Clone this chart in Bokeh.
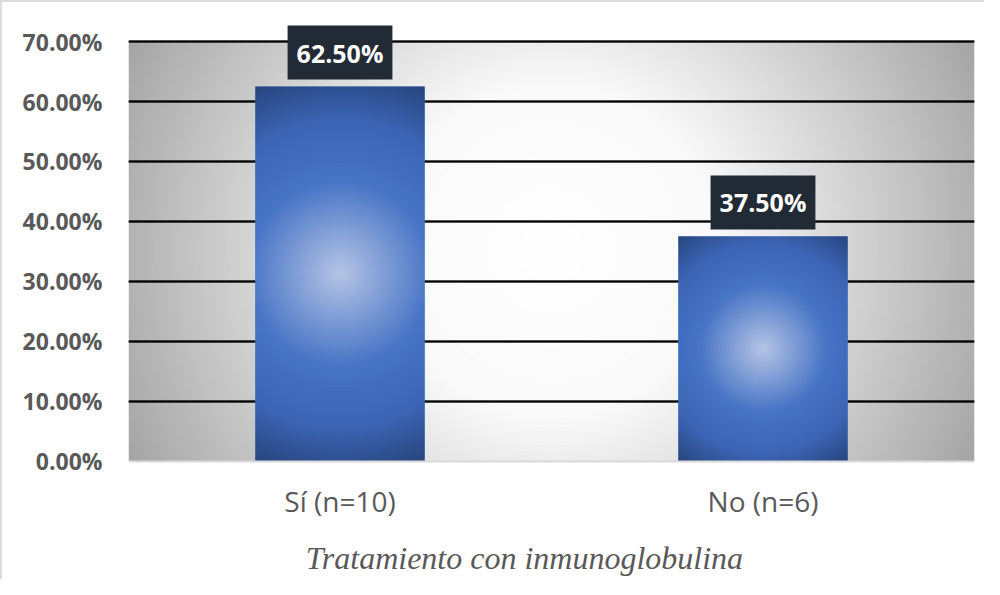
import numpy as np
from bokeh.plotting import figure
from bokeh.models import FixedTicker, NumeralTickFormatter, ColumnDataSource, Range1d, Label, Grid
from bokeh.core.properties import value
from bokeh.embed import file_html
from bokeh.resources import INLINE

# ---- data ----
categories = ["Sí (n=10)", "No (n=6)"]
percentages = [0.625, 0.375]
bar_labels = ["62.50%", "37.50%"]
y_ticks = [0.0, 0.1, 0.2, 0.3, 0.4, 0.5, 0.6, 0.7]
x_title = "Tratamiento con inmunoglobulina"

# ---- layout constants ----
W, H = 984, 579
ML, MR = 126, 12
frame_w = W - 2 - ML - MR
grad_h = 418                       # px height of the 0..70% area
top_pad, bot_pad = 39, 120         # px of frame above 70% and below 0%
y_max = 0.7
px_y = y_max / grad_h
y_end = y_max + top_pad * px_y
y_start = -bot_pad * px_y
bar_w = 0.4
centers = [i + 0.5 for i in range(len(categories))]


def radial(w, h, pos, cols):
    yy, xx = np.mgrid[0:h, 0:w]
    dx = xx + 0.5 - w / 2.0
    dy = yy + 0.5 - h / 2.0
    t = np.sqrt(dx ** 2 + dy ** 2) / np.sqrt((w / 2.0) ** 2 + (h / 2.0) ** 2)
    cols = np.array(cols, dtype=float)
    r = np.interp(t, pos, cols[:, 0])
    g = np.interp(t, pos, cols[:, 1])
    b = np.interp(t, pos, cols[:, 2])
    img = np.empty((h, w), dtype=np.uint32)
    v = img.view(dtype=np.uint8).reshape((h, w, 4))
    v[:, :, 0] = r.astype(np.uint8)
    v[:, :, 1] = g.astype(np.uint8)
    v[:, :, 2] = b.astype(np.uint8)
    v[:, :, 3] = 255
    return img


p = figure(width=W, height=H, output_backend="svg", toolbar_location=None,
           x_range=Range1d(0, len(categories)), y_range=Range1d(y_start, y_end),
           min_border_left=ML, min_border_right=MR, min_border_top=0,
           min_border_bottom=0, outline_line_color=None,
           background_fill_color="white", border_fill_color="white")
p.styles = {"border-top": "2px solid #dcdcdc", "border-left": "2px solid #dcdcdc",
            "box-sizing": "border-box"}

# background radial gradient
bg = radial(frame_w // 2, grad_h // 2, [0.0, 0.35, 1.0],
            [(255, 255, 255), (250, 250, 250), (165, 165, 165)])
bgr = p.image_rgba(image=[bg], x=0, y=0, dw=len(categories), dh=y_max)
bgr.level = "image"

# gridline shadows + grid
shadow = Grid(dimension=1, ticker=FixedTicker(ticks=[t - 2 * px_y for t in y_ticks[1:-1]]),
              grid_line_color="#808080", grid_line_alpha=0.7, grid_line_width=1.5)
p.add_layout(shadow)
p.xgrid.grid_line_color = None
p.ygrid.ticker = FixedTicker(ticks=y_ticks[1:])
p.ygrid.grid_line_color = "black"
p.ygrid.grid_line_width = 2

# bars
src = ColumnDataSource(dict(x=centers, top=percentages, label=bar_labels))
p.vbar(x="x", top="top", bottom=0, width=bar_w, source=src,
       fill_color="#4472c4", line_color=None)
for c, v in zip(centers, percentages):
    bw = int(round(bar_w * frame_w / len(categories)))
    bh = int(round(v / y_max * grad_h))
    img = radial(bw, bh, [0.0, 0.45, 0.75, 1.0],
                 [(182, 197, 230), (72, 117, 198), (60, 100, 180), (40, 70, 125)])
    p.image_rgba(image=[img], x=c - bar_w / 2, y=0, dw=bar_w, dh=v)

# data labels
p.text(x="x", y="top", text="label", source=src, y_offset=-7,
       anchor="bottom_center", text_color="white",
       text_font=value("Open Sans"), text_font_style="bold",
       text_font_size="25px",
       background_fill_color="#222a35",
       padding=dict(left=9, right=9, top=10, bottom=10))

# axes
p.yaxis.ticker = FixedTicker(ticks=y_ticks)
p.yaxis.formatter = NumeralTickFormatter(format="0.00%")
p.yaxis.axis_line_color = None
p.yaxis.major_tick_line_color = None
p.yaxis.minor_tick_line_color = None
p.yaxis.major_label_standoff = 20
p.yaxis.major_label_text_font = "Open Sans"
p.yaxis.major_label_text_font_style = "bold"
p.yaxis.major_label_text_font_size = "23px"
p.yaxis.major_label_text_color = "#595959"

p.xaxis.fixed_location = 0
p.xaxis.ticker = FixedTicker(ticks=centers)
p.xaxis.major_label_overrides = {c: n for c, n in zip(centers, categories)}
p.xaxis.axis_line_color = "#d9d9d9"
p.xaxis.axis_line_width = 2
p.xaxis.major_tick_line_color = None
p.xaxis.minor_tick_line_color = None
p.xaxis.major_label_standoff = 15
p.xaxis.major_label_text_font = "Open Sans"
p.xaxis.major_label_text_font_size = "28px"
p.xaxis.major_label_text_color = "#595959"

ttl = Label(x=0.936, y=-97 * px_y, text=x_title,
            text_align="center", text_baseline="middle",
            text_font="Liberation Serif", text_font_style="italic",
            text_font_size="32px", text_color="#595959")
p.add_layout(ttl)

open("out.html", "w").write(file_html(p, INLINE))
